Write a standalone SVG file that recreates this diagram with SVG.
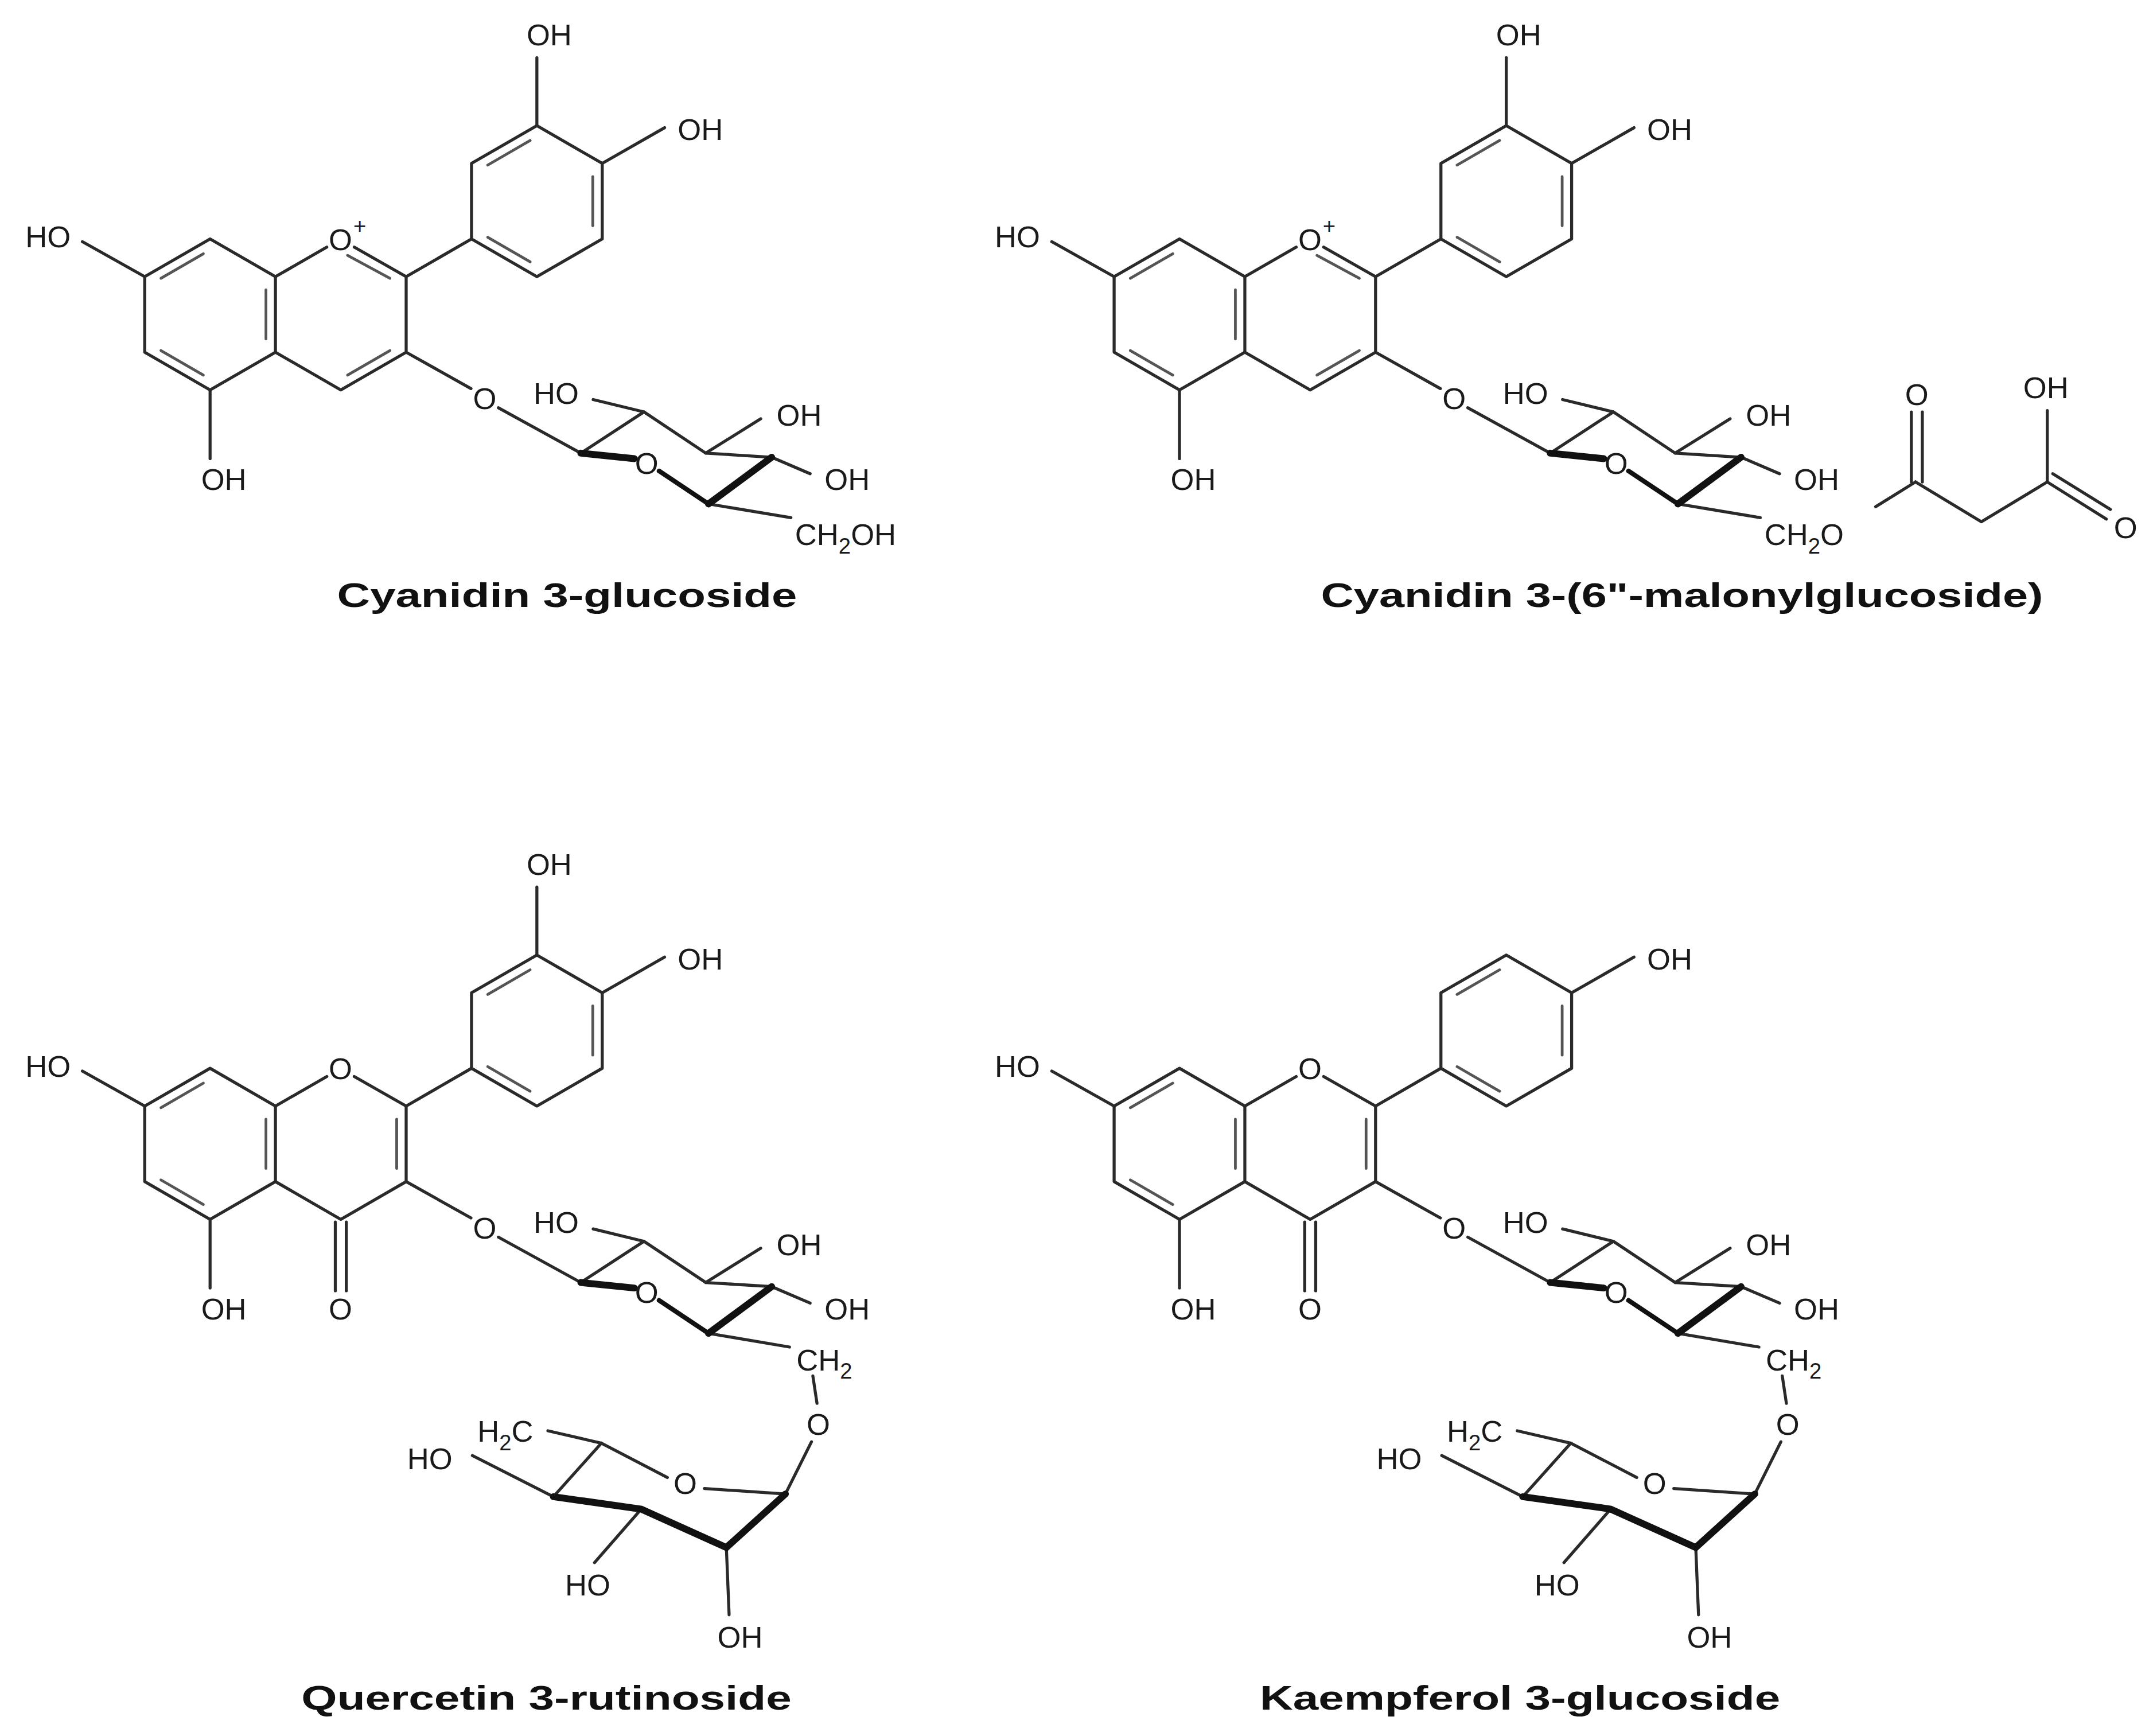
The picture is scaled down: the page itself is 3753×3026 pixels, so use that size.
<svg xmlns="http://www.w3.org/2000/svg" width="3753" height="3026" viewBox="0 0 3753 3026">
<style>
.b{stroke:#2a2a2a;stroke-width:2.2;fill:none;stroke-linecap:round;stroke-linejoin:round}
.d{stroke:#555;stroke-width:2;fill:none;stroke-linecap:round}
.w{stroke:#111;stroke-width:5;fill:none;stroke-linecap:round}
.m{stroke:#111;stroke-width:3.4;fill:none;stroke-linecap:round}
.t{font-family:"Liberation Sans",Arial,sans-serif;font-size:22px;fill:#1a1a1a;text-anchor:middle}
.s{text-anchor:start}
.p{font-size:16px}
.lbl{font-family:"Liberation Sans",Arial,sans-serif;font-size:25px;font-weight:bold;fill:#111;text-anchor:middle}
</style>
<rect width="3753" height="3026" fill="#fff"/>
<g transform="scale(2.3935)">
<!-- Molecule 1 -->
<g id="cyanidin-3-glucoside">
 <g class="b">
  <polygon points="153,174 200.6,201.5 200.6,256.5 153,284 105.4,256.5 105.4,201.5"/>
  <polyline points="200.6,201.5 238,180"/>
  <polyline points="258,180 295.8,201.5 295.8,256.5 248.2,284 200.6,256.5"/>
  <polygon points="343.4,174 343.4,119 391,91.5 438.6,119 438.6,174 391,201.5"/>
  <line x1="295.8" y1="201.5" x2="343.4" y2="174"/>
  <line x1="391" y1="91.5" x2="391" y2="42"/>
  <line x1="438.6" y1="119" x2="484" y2="93"/>
  <line x1="105.4" y1="201.5" x2="60" y2="176"/>
  <line x1="153" y1="284" x2="153" y2="334"/>
  <line x1="295.8" y1="256.5" x2="343" y2="283"/>
  <line x1="363" y1="297" x2="423" y2="330"/>
  <polyline points="423,330 469,300 514,330 562,333"/>
  <line x1="469" y1="300" x2="432" y2="291"/>
  <line x1="514" y1="330" x2="554" y2="305"/>
  <line x1="562" y1="333" x2="590" y2="345"/>
  <line x1="516" y1="367" x2="576" y2="377"/>
 </g>
 <g class="d">
  <line x1="117.2" y1="202.7" x2="148.1" y2="184.8"/>
  <line x1="193.7" y1="211.1" x2="193.7" y2="246.9"/>
  <line x1="148.1" y1="273.2" x2="117.2" y2="255.3"/>
  <line x1="253.1" y1="186" x2="284" y2="202.7"/>
  <line x1="284" y1="255.3" x2="253.1" y2="273.2"/>
  <line x1="355.2" y1="120.2" x2="386.1" y2="102.3"/>
  <line x1="431.7" y1="128.6" x2="431.7" y2="164.4"/>
  <line x1="386.1" y1="190.7" x2="355.2" y2="172.8"/>
 </g>
 <line class="w" x1="562" y1="333" x2="516" y2="367"/>
 <line class="m" x1="516" y1="367" x2="480" y2="343"/>
 <line class="w" x1="462" y1="334" x2="423" y2="330"/>
 <text class="t" x="400" y="33">OH</text>
 <text class="t" x="510" y="102">OH</text>
 <text class="t" x="35" y="180">HO</text>
 <text class="t" x="163" y="357">OH</text>
 <text class="t" x="248" y="182">O</text>
 <text class="t p" x="262" y="170">+</text>
 <text class="t" x="353" y="298">O</text>
 <text class="t" x="405" y="294">HO</text>
 <text class="t" x="582" y="310">OH</text>
 <text class="t" x="617" y="357">OH</text>
 <text class="t" x="471" y="345">O</text>
 <text class="t s" x="579" y="397">CH<tspan class="p" dy="6">2</tspan><tspan dy="-6">OH</tspan></text>
 <text class="lbl" x="413" y="442" textLength="335" lengthAdjust="spacingAndGlyphs">Cyanidin 3-glucoside</text>
</g>

<!-- Molecule 2 -->
<g id="cyanidin-3-malonylglucoside" transform="translate(706,0)">
 <g class="b">
  <polygon points="153,174 200.6,201.5 200.6,256.5 153,284 105.4,256.5 105.4,201.5"/>
  <polyline points="200.6,201.5 238,180"/>
  <polyline points="258,180 295.8,201.5 295.8,256.5 248.2,284 200.6,256.5"/>
  <polygon points="343.4,174 343.4,119 391,91.5 438.6,119 438.6,174 391,201.5"/>
  <line x1="295.8" y1="201.5" x2="343.4" y2="174"/>
  <line x1="391" y1="91.5" x2="391" y2="42"/>
  <line x1="438.6" y1="119" x2="484" y2="93"/>
  <line x1="105.4" y1="201.5" x2="60" y2="176"/>
  <line x1="153" y1="284" x2="153" y2="334"/>
  <line x1="295.8" y1="256.5" x2="343" y2="283"/>
  <line x1="363" y1="297" x2="423" y2="330"/>
  <polyline points="423,330 469,300 514,330 562,333"/>
  <line x1="469" y1="300" x2="432" y2="291"/>
  <line x1="514" y1="330" x2="554" y2="305"/>
  <line x1="562" y1="333" x2="590" y2="345"/>
  <line x1="516" y1="367" x2="576" y2="377"/>
  <line x1="660" y1="369" x2="689" y2="351"/>
  <line x1="686" y1="351" x2="686" y2="300"/>
  <line x1="694" y1="351" x2="694" y2="300"/>
  <polyline points="689,351 737,380 785,351 785,299"/>
  <line x1="785" y1="351" x2="828" y2="378"/>
  <line x1="789" y1="345" x2="831" y2="371"/>
 </g>
 <g class="d">
  <line x1="117.2" y1="202.7" x2="148.1" y2="184.8"/>
  <line x1="193.7" y1="211.1" x2="193.7" y2="246.9"/>
  <line x1="148.1" y1="273.2" x2="117.2" y2="255.3"/>
  <line x1="253.1" y1="186" x2="284" y2="202.7"/>
  <line x1="284" y1="255.3" x2="253.1" y2="273.2"/>
  <line x1="355.2" y1="120.2" x2="386.1" y2="102.3"/>
  <line x1="431.7" y1="128.6" x2="431.7" y2="164.4"/>
  <line x1="386.1" y1="190.7" x2="355.2" y2="172.8"/>
 </g>
 <line class="w" x1="562" y1="333" x2="516" y2="367"/>
 <line class="m" x1="516" y1="367" x2="480" y2="343"/>
 <line class="w" x1="462" y1="334" x2="423" y2="330"/>
 <text class="t" x="400" y="33">OH</text>
 <text class="t" x="510" y="102">OH</text>
 <text class="t" x="35" y="180">HO</text>
 <text class="t" x="163" y="357">OH</text>
 <text class="t" x="248" y="182">O</text>
 <text class="t p" x="262" y="170">+</text>
 <text class="t" x="353" y="298">O</text>
 <text class="t" x="405" y="294">HO</text>
 <text class="t" x="582" y="310">OH</text>
 <text class="t" x="617" y="357">OH</text>
 <text class="t" x="471" y="345">O</text>
 <text class="t s" x="579" y="397">CH<tspan class="p" dy="6">2</tspan><tspan dy="-6">O</tspan></text>
 <text class="t" x="690" y="295">O</text>
 <text class="t" x="784" y="290">OH</text>
 <text class="t" x="842" y="392">O</text>
 <text class="lbl" x="519" y="442" textLength="526" lengthAdjust="spacingAndGlyphs">Cyanidin 3-(6"-malonylglucoside)</text>
</g>

<!-- Molecule 3 -->
<g id="quercetin-3-rutinoside" transform="translate(0,604)">
 <g class="b">
  <polygon points="153,174 200.6,201.5 200.6,256.5 153,284 105.4,256.5 105.4,201.5"/>
  <polyline points="200.6,201.5 238,180"/>
  <polyline points="258,180 295.8,201.5 295.8,256.5 248.2,284 200.6,256.5"/>
  <line x1="244.2" y1="286" x2="244.2" y2="336"/>
  <line x1="252.2" y1="286" x2="252.2" y2="336"/>
  <polygon points="343.4,174 343.4,119 391,91.5 438.6,119 438.6,174 391,201.5"/>
  <line x1="295.8" y1="201.5" x2="343.4" y2="174"/>
  <line x1="391" y1="91.5" x2="391" y2="42"/>
  <line x1="438.6" y1="119" x2="484" y2="93"/>
  <line x1="105.4" y1="201.5" x2="60" y2="176"/>
  <line x1="153" y1="284" x2="153" y2="334"/>
  <line x1="295.8" y1="256.5" x2="343" y2="283"/>
  <line x1="363" y1="297" x2="423" y2="330"/>
  <polyline points="423,330 469,300 514,330 562,333"/>
  <line x1="469" y1="300" x2="432" y2="291"/>
  <line x1="514" y1="330" x2="554" y2="305"/>
  <line x1="562" y1="333" x2="590" y2="345"/>
  <line x1="516" y1="367" x2="575" y2="377"/>
  <line x1="592" y1="398" x2="595" y2="418"/>
  <line x1="591" y1="446" x2="572" y2="484"/>
  <line x1="572" y1="484" x2="513" y2="480"/>
  <line x1="486" y1="472" x2="438" y2="447"/>
  <line x1="438" y1="447" x2="399" y2="438"/>
  <line x1="438" y1="447" x2="403" y2="486"/>
  <line x1="403" y1="486" x2="344" y2="456"/>
  <line x1="467" y1="495" x2="433" y2="534"/>
  <line x1="529" y1="523" x2="531" y2="572"/>
 </g>
 <g class="d">
  <line x1="117.2" y1="202.7" x2="148.1" y2="184.8"/>
  <line x1="193.7" y1="211.1" x2="193.7" y2="246.9"/>
  <line x1="148.1" y1="273.2" x2="117.2" y2="255.3"/>
  <line x1="288.9" y1="211.1" x2="288.9" y2="246.9"/>
  <line x1="355.2" y1="120.2" x2="386.1" y2="102.3"/>
  <line x1="431.7" y1="128.6" x2="431.7" y2="164.4"/>
  <line x1="386.1" y1="190.7" x2="355.2" y2="172.8"/>
 </g>
 <line class="w" x1="562" y1="333" x2="516" y2="367"/>
 <line class="m" x1="516" y1="367" x2="480" y2="343"/>
 <line class="w" x1="462" y1="334" x2="423" y2="330"/>
 <polyline class="w" points="403,486 467,495 529,523 572,484"/>
 <text class="t" x="400" y="33">OH</text>
 <text class="t" x="510" y="102">OH</text>
 <text class="t" x="35" y="180">HO</text>
 <text class="t" x="163" y="357">OH</text>
 <text class="t" x="248" y="182">O</text>
 <text class="t" x="248" y="357">O</text>
 <text class="t" x="353" y="298">O</text>
 <text class="t" x="405" y="294">HO</text>
 <text class="t" x="582" y="310">OH</text>
 <text class="t" x="617" y="357">OH</text>
 <text class="t" x="471" y="345">O</text>
 <text class="t s" x="580" y="394">CH<tspan class="p" dy="6">2</tspan></text>
 <text class="t" x="596" y="441">O</text>
 <text class="t" x="499" y="484">O</text>
 <text class="t" x="368" y="446">H<tspan class="p" dy="6">2</tspan><tspan dy="-6">C</tspan></text>
 <text class="t" x="313" y="466">HO</text>
 <text class="t" x="428" y="558">HO</text>
 <text class="t" x="539" y="596">OH</text>
 <text class="lbl" x="398" y="641" textLength="357" lengthAdjust="spacingAndGlyphs">Quercetin 3-rutinoside</text>
</g>

<!-- Molecule 4 -->
<g id="kaempferol-3-glucoside" transform="translate(706,604)">
 <g class="b">
  <polygon points="153,174 200.6,201.5 200.6,256.5 153,284 105.4,256.5 105.4,201.5"/>
  <polyline points="200.6,201.5 238,180"/>
  <polyline points="258,180 295.8,201.5 295.8,256.5 248.2,284 200.6,256.5"/>
  <line x1="244.2" y1="286" x2="244.2" y2="336"/>
  <line x1="252.2" y1="286" x2="252.2" y2="336"/>
  <polygon points="343.4,174 343.4,119 391,91.5 438.6,119 438.6,174 391,201.5"/>
  <line x1="295.8" y1="201.5" x2="343.4" y2="174"/>
  <line x1="438.6" y1="119" x2="484" y2="93"/>
  <line x1="105.4" y1="201.5" x2="60" y2="176"/>
  <line x1="153" y1="284" x2="153" y2="334"/>
  <line x1="295.8" y1="256.5" x2="343" y2="283"/>
  <line x1="363" y1="297" x2="423" y2="330"/>
  <polyline points="423,330 469,300 514,330 562,333"/>
  <line x1="469" y1="300" x2="432" y2="291"/>
  <line x1="514" y1="330" x2="554" y2="305"/>
  <line x1="562" y1="333" x2="590" y2="345"/>
  <line x1="516" y1="367" x2="575" y2="377"/>
  <line x1="592" y1="398" x2="595" y2="418"/>
  <line x1="591" y1="446" x2="572" y2="484"/>
  <line x1="572" y1="484" x2="513" y2="480"/>
  <line x1="486" y1="472" x2="438" y2="447"/>
  <line x1="438" y1="447" x2="399" y2="438"/>
  <line x1="438" y1="447" x2="403" y2="486"/>
  <line x1="403" y1="486" x2="344" y2="456"/>
  <line x1="467" y1="495" x2="433" y2="534"/>
  <line x1="529" y1="523" x2="531" y2="572"/>
 </g>
 <g class="d">
  <line x1="117.2" y1="202.7" x2="148.1" y2="184.8"/>
  <line x1="193.7" y1="211.1" x2="193.7" y2="246.9"/>
  <line x1="148.1" y1="273.2" x2="117.2" y2="255.3"/>
  <line x1="288.9" y1="211.1" x2="288.9" y2="246.9"/>
  <line x1="355.2" y1="120.2" x2="386.1" y2="102.3"/>
  <line x1="431.7" y1="128.6" x2="431.7" y2="164.4"/>
  <line x1="386.1" y1="190.7" x2="355.2" y2="172.8"/>
 </g>
 <line class="w" x1="562" y1="333" x2="516" y2="367"/>
 <line class="m" x1="516" y1="367" x2="480" y2="343"/>
 <line class="w" x1="462" y1="334" x2="423" y2="330"/>
 <polyline class="w" points="403,486 467,495 529,523 572,484"/>
 <text class="t" x="510" y="102">OH</text>
 <text class="t" x="35" y="180">HO</text>
 <text class="t" x="163" y="357">OH</text>
 <text class="t" x="248" y="182">O</text>
 <text class="t" x="248" y="357">O</text>
 <text class="t" x="353" y="298">O</text>
 <text class="t" x="405" y="294">HO</text>
 <text class="t" x="582" y="310">OH</text>
 <text class="t" x="617" y="357">OH</text>
 <text class="t" x="471" y="345">O</text>
 <text class="t s" x="580" y="394">CH<tspan class="p" dy="6">2</tspan></text>
 <text class="t" x="596" y="441">O</text>
 <text class="t" x="499" y="484">O</text>
 <text class="t" x="368" y="446">H<tspan class="p" dy="6">2</tspan><tspan dy="-6">C</tspan></text>
 <text class="t" x="313" y="466">HO</text>
 <text class="t" x="428" y="558">HO</text>
 <text class="t" x="539" y="596">OH</text>
 <text class="lbl" x="401" y="641" textLength="379" lengthAdjust="spacingAndGlyphs">Kaempferol 3-glucoside</text>
</g>
</g>
</svg>
